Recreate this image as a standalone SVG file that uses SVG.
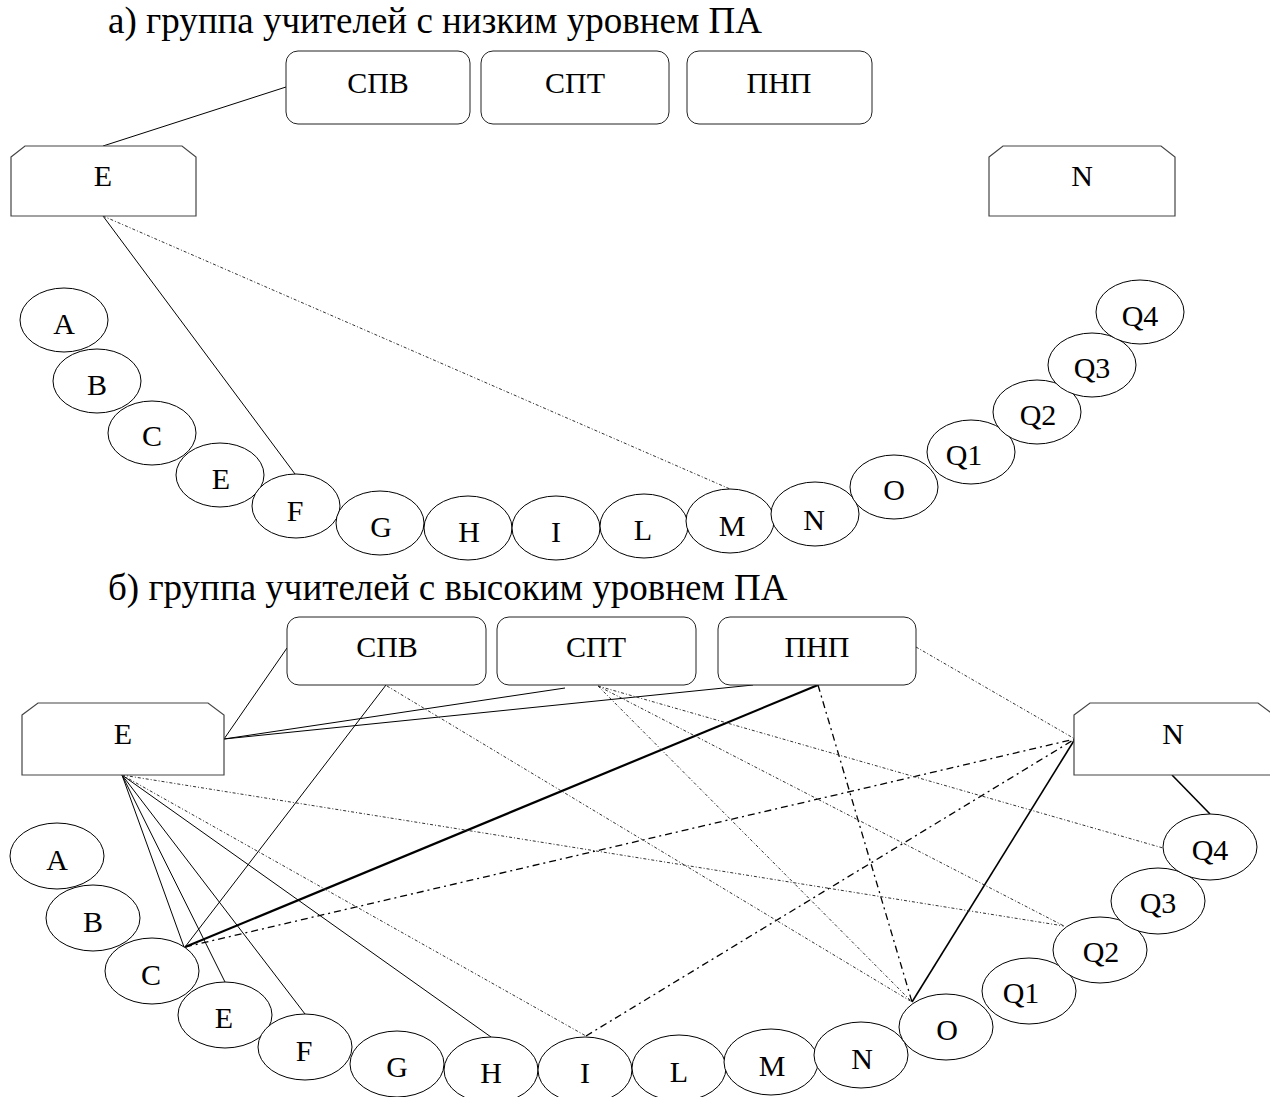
<svg xmlns="http://www.w3.org/2000/svg" width="1270" height="1097" viewBox="0 0 1270 1097">
  <style>
    text { font-family: "Liberation Serif", "Times New Roman", serif; fill: #000; }
    .title { font-size: 37px; }
    .lbl { font-size: 30px; text-anchor: middle; }
    .rbox { fill: #fff; stroke: #222; stroke-width: 1; }
    .cbox { fill: #fff; stroke: #444; stroke-width: 1.2; }
    .ell { fill: #fff; stroke: #000; stroke-width: 1; }
    .solid { stroke: #000; stroke-width: 1; fill: none; }
    .thick { stroke: #000; stroke-width: 2.2; fill: none; }
    .mid { stroke: #000; stroke-width: 1.6; fill: none; }
    .dot { stroke: #333; stroke-width: 1; stroke-dasharray: 3 2 1 2; fill: none; }
    .dashdot { stroke: #000; stroke-width: 1.3; stroke-dasharray: 7 4 2 4; fill: none; }
  </style>

  <rect width="1270" height="1097" fill="#fff"/>

  <!-- ===================== part a ===================== -->
  <text class="title" x="108" y="33">а) группа учителей с низким уровнем ПА</text>

  <g id="a-connectors">
    <line class="solid" x1="103" y1="146" x2="286" y2="87"/>
    <line class="solid" x1="103" y1="216" x2="295" y2="474"/>
    <line class="dot" x1="103" y1="216" x2="730" y2="489"/>
  </g>

  <g id="a-spv"><rect class="rbox" x="286" y="51" width="184" height="73" rx="12"/><text class="lbl" x="378" y="93">СПВ</text></g>
  <g id="a-spt"><rect class="rbox" x="481" y="51" width="188" height="73" rx="12"/><text class="lbl" x="575" y="93">СПТ</text></g>
  <g id="a-pnp"><rect class="rbox" x="687" y="51" width="185" height="73" rx="12"/><text class="lbl" x="779" y="93">ПНП</text></g>

  <g id="a-boxE"><path class="cbox" d="M11,157 L25,146 L182,146 L196,157 L196,216 L11,216 Z"/><text class="lbl" x="103" y="186">E</text></g>
  <g id="a-boxN"><path class="cbox" d="M989,157 L1003,146 L1161,146 L1175,157 L1175,216 L989,216 Z"/><text class="lbl" x="1082" y="186">N</text></g>

  <g id="a-A"><ellipse class="ell" cx="64" cy="320" rx="44" ry="32"/><text class="lbl" x="64" y="334">A</text></g>
  <g id="a-B"><ellipse class="ell" cx="97" cy="381" rx="44" ry="32"/><text class="lbl" x="97" y="395">B</text></g>
  <g id="a-C"><ellipse class="ell" cx="152" cy="433" rx="44" ry="32"/><text class="lbl" x="152" y="446">C</text></g>
  <g id="a-E"><ellipse class="ell" cx="220" cy="475" rx="44" ry="32"/><text class="lbl" x="221" y="489">E</text></g>
  <g id="a-F"><ellipse class="ell" cx="296" cy="506" rx="44" ry="32"/><text class="lbl" x="295" y="521">F</text></g>
  <g id="a-G"><ellipse class="ell" cx="380" cy="523" rx="44" ry="32"/><text class="lbl" x="381" y="537">G</text></g>
  <g id="a-H"><ellipse class="ell" cx="468" cy="528" rx="44" ry="32"/><text class="lbl" x="469" y="542">H</text></g>
  <g id="a-I"><ellipse class="ell" cx="556" cy="528" rx="44" ry="32"/><text class="lbl" x="556" y="542">I</text></g>
  <g id="a-L"><ellipse class="ell" cx="644" cy="526" rx="44" ry="32"/><text class="lbl" x="643" y="540">L</text></g>
  <g id="a-M"><ellipse class="ell" cx="730" cy="521" rx="44" ry="32"/><text class="lbl" x="732" y="536">M</text></g>
  <g id="a-N"><ellipse class="ell" cx="815" cy="514" rx="44" ry="32"/><text class="lbl" x="814" y="530">N</text></g>
  <g id="a-O"><ellipse class="ell" cx="894" cy="487" rx="44" ry="32"/><text class="lbl" x="894" y="500">O</text></g>
  <g id="a-Q1"><ellipse class="ell" cx="971" cy="452" rx="44" ry="32"/><text class="lbl" x="964" y="465">Q1</text></g>
  <g id="a-Q2"><ellipse class="ell" cx="1037" cy="412" rx="44" ry="32"/><text class="lbl" x="1038" y="425">Q2</text></g>
  <g id="a-Q3"><ellipse class="ell" cx="1092" cy="365" rx="44" ry="32"/><text class="lbl" x="1092" y="378">Q3</text></g>
  <g id="a-Q4"><ellipse class="ell" cx="1140" cy="312" rx="44" ry="32"/><text class="lbl" x="1140" y="326">Q4</text></g>

  <!-- ===================== part b ===================== -->
  <text class="title" x="108" y="600">б) группа учителей с высоким уровнем ПА</text>

  <g id="b-connectors">
    <!-- solid links -->
    <line class="solid" x1="224" y1="739" x2="287" y2="648"/>
    <line class="solid" x1="224" y1="739" x2="565" y2="688"/>
    <line class="solid" x1="224" y1="739" x2="753" y2="685"/>
    <line class="solid" x1="386" y1="685" x2="185" y2="947"/>
    <line class="solid" x1="122" y1="775" x2="184" y2="947"/>
    <line class="solid" x1="122" y1="775" x2="225" y2="982"/>
    <line class="solid" x1="122" y1="775" x2="305" y2="1014"/>
    <line class="solid" x1="122" y1="775" x2="491" y2="1037"/>
    <line class="mid" x1="912" y1="1002" x2="1075" y2="739"/>
    <line class="mid" x1="1172" y1="775" x2="1210" y2="814"/>
    <line class="thick" x1="818" y1="685" x2="185" y2="947"/>
    <!-- dash-dot links -->
    <line class="dashdot" x1="185" y1="947" x2="1075" y2="739"/>
    <line class="dashdot" x1="586" y1="1036" x2="1075" y2="739"/>
    <line class="dashdot" x1="818" y1="685" x2="912" y2="1002"/>
    <!-- fine dotted links -->
    <line class="dot" x1="122" y1="775" x2="586" y2="1036"/>
    <line class="dot" x1="122" y1="775" x2="1064" y2="926"/>
    <line class="dot" x1="387" y1="686" x2="912" y2="1002"/>
    <line class="dot" x1="598" y1="686" x2="912" y2="1002"/>
    <line class="dot" x1="598" y1="686" x2="1064" y2="926"/>
    <line class="dot" x1="598" y1="686" x2="1163" y2="848"/>
    <line class="dot" x1="916" y1="647" x2="1075" y2="739"/>
  </g>

  <g id="b-spv"><rect class="rbox" x="287" y="617" width="199" height="68" rx="12"/><text class="lbl" x="387" y="657">СПВ</text></g>
  <g id="b-spt"><rect class="rbox" x="497" y="617" width="199" height="68" rx="12"/><text class="lbl" x="596" y="657">СПТ</text></g>
  <g id="b-pnp"><rect class="rbox" x="718" y="617" width="198" height="68" rx="12"/><text class="lbl" x="817" y="657">ПНП</text></g>

  <g id="b-boxE"><path class="cbox" d="M22,715 L38,703 L208,703 L224,715 L224,775 L22,775 Z"/><text class="lbl" x="123" y="744">E</text></g>
  <g id="b-boxN"><path class="cbox" d="M1074,715 L1090,703 L1258,703 L1274,715 L1274,775 L1074,775 Z"/><text class="lbl" x="1173" y="744">N</text></g>

  <g id="b-A"><ellipse class="ell" cx="57" cy="856" rx="47" ry="33"/><text class="lbl" x="57" y="870">A</text></g>
  <g id="b-B"><ellipse class="ell" cx="93" cy="918" rx="47" ry="33"/><text class="lbl" x="93" y="932">B</text></g>
  <g id="b-C"><ellipse class="ell" cx="152" cy="971" rx="47" ry="33"/><text class="lbl" x="151" y="985">C</text></g>
  <g id="b-E"><ellipse class="ell" cx="225" cy="1015" rx="47" ry="33"/><text class="lbl" x="224" y="1028">E</text></g>
  <g id="b-F"><ellipse class="ell" cx="305" cy="1047" rx="47" ry="33"/><text class="lbl" x="304" y="1061">F</text></g>
  <g id="b-G"><ellipse class="ell" cx="397" cy="1064" rx="47" ry="33"/><text class="lbl" x="397" y="1077">G</text></g>
  <g id="b-H"><ellipse class="ell" cx="491" cy="1070" rx="47" ry="33"/><text class="lbl" x="491" y="1083">H</text></g>
  <g id="b-I"><ellipse class="ell" cx="585" cy="1070" rx="47" ry="33"/><text class="lbl" x="585" y="1083">I</text></g>
  <g id="b-L"><ellipse class="ell" cx="679" cy="1068" rx="47" ry="33"/><text class="lbl" x="679" y="1082">L</text></g>
  <g id="b-M"><ellipse class="ell" cx="771" cy="1062" rx="47" ry="33"/><text class="lbl" x="772" y="1076">M</text></g>
  <g id="b-N"><ellipse class="ell" cx="861" cy="1055" rx="47" ry="33"/><text class="lbl" x="862" y="1069">N</text></g>
  <g id="b-O"><ellipse class="ell" cx="946" cy="1027" rx="47" ry="33"/><text class="lbl" x="947" y="1040">O</text></g>
  <g id="b-Q1"><ellipse class="ell" cx="1029" cy="991" rx="47" ry="33"/><text class="lbl" x="1021" y="1003">Q1</text></g>
  <g id="b-Q2"><ellipse class="ell" cx="1100" cy="950" rx="47" ry="33"/><text class="lbl" x="1101" y="962">Q2</text></g>
  <g id="b-Q3"><ellipse class="ell" cx="1158" cy="901" rx="47" ry="33"/><text class="lbl" x="1158" y="913">Q3</text></g>
  <g id="b-Q4"><ellipse class="ell" cx="1210" cy="847" rx="47" ry="33"/><text class="lbl" x="1210" y="860">Q4</text></g>
</svg>
